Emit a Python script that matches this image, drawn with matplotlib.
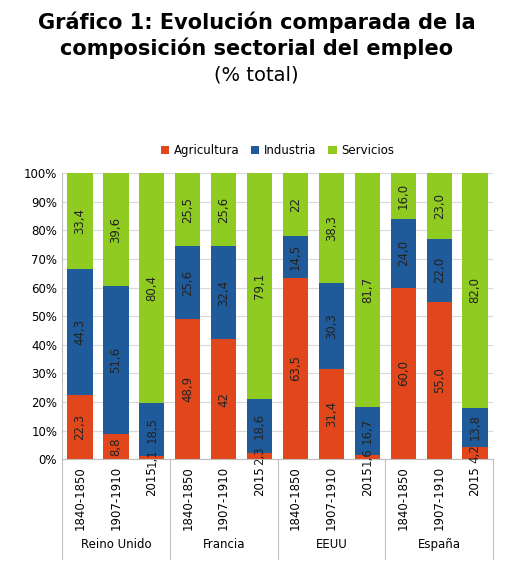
import matplotlib
matplotlib.use("Agg")
import matplotlib.pyplot as plt
import numpy as np

countries = ["Reino Unido", "Francia", "EEUU", "España"]
periods = ["1840-1850", "1907-1910", "2015"]
agri = [22.3, 8.8, 1.1, 48.9, 42, 2.3, 63.5, 31.4, 1.6, 60.0, 55.0, 4.2]
indu = [44.3, 51.6, 18.5, 25.6, 32.4, 18.6, 14.5, 30.3, 16.7, 24.0, 22.0, 13.8]
serv = [33.4, 39.6, 80.4, 25.5, 25.6, 79.1, 22, 38.3, 81.7, 16.0, 23.0, 82.0]
agri_lbl = ["22,3","8,8","1,1","48,9","42","2,3","63,5","31,4","1,6","60,0","55,0","4,2"]
indu_lbl = ["44,3","51,6","18,5","25,6","32,4","18,6","14,5","30,3","16,7","24,0","22,0","13,8"]
serv_lbl = ["33,4","39,6","80,4","25,5","25,6","79,1","22","38,3","81,7","16,0","23,0","82,0"]

fig = plt.figure(figsize=(5.13, 5.79), dpi=100)
ax = fig.add_axes([0.121, 0.207, 0.84, 0.494])
x = np.arange(len(agri))
a = np.array(agri); i = np.array(indu); s = np.array(serv)
cols = ["#E2471C", "#1F5B9A", "#8FCB21"]
ax.bar(x, a, 0.7, color=cols[0], label="Agricultura", zorder=2)
ax.bar(x, i, 0.7, bottom=a, color=cols[1], label="Industria", zorder=2)
ax.bar(x, s, 0.7, bottom=a + i, color=cols[2], label="Servicios", zorder=2)
for k in range(len(x)):
    for bot, val, lab in [(0, a[k], agri_lbl[k]), (a[k], i[k], indu_lbl[k]), (a[k] + i[k], s[k], serv_lbl[k])]:
        ax.text(x[k], bot + val / 2, lab, rotation=90, ha="center", va="center", fontsize=8.5, color="#222222")
ax.set_xlim(-0.5, len(x) - 0.5)
ax.set_ylim(0, 100)
ax.set_yticks(range(0, 101, 10))
ax.set_yticklabels([f"{v}%" for v in range(0, 101, 10)], fontsize=8.5)
ax.yaxis.grid(True, color="#D9D9D9", lw=0.8, zorder=0)
ax.set_xticks([])
for sp in ["top", "right"]:
    ax.spines[sp].set_visible(False)
ax.spines["left"].set_color("#BFBFBF")
ax.spines["bottom"].set_color("#BFBFBF")
ax.tick_params(axis="y", length=0)
for k in range(len(x)):
    ax.text(x[k], -2.5, periods[k % 3], rotation=90, ha="center", va="top", fontsize=8.5)
for g in range(5):
    ax.plot([g * 3 - 0.5] * 2, [0, -35], color="#BFBFBF", lw=0.8, clip_on=False)
for g, c in enumerate(countries):
    ax.text(g * 3 + 1, -30, c, ha="center", va="center", fontsize=8.5)
ax.legend(loc="lower center", bbox_to_anchor=(0.5, 1.02), ncol=3, frameon=False, fontsize=8.5,
          handlelength=0.7, handleheight=0.7, columnspacing=1.0, handletextpad=0.4)
fig.text(0.5, 0.962, "Gráfico 1: Evolución comparada de la", ha="center", va="center", fontsize=15, fontweight="bold")
fig.text(0.5, 0.917, "composición sectorial del empleo", ha="center", va="center", fontsize=15, fontweight="bold")
fig.text(0.5, 0.871, "(% total)", ha="center", va="center", fontsize=14)
fig.savefig("out.png", dpi=100)
